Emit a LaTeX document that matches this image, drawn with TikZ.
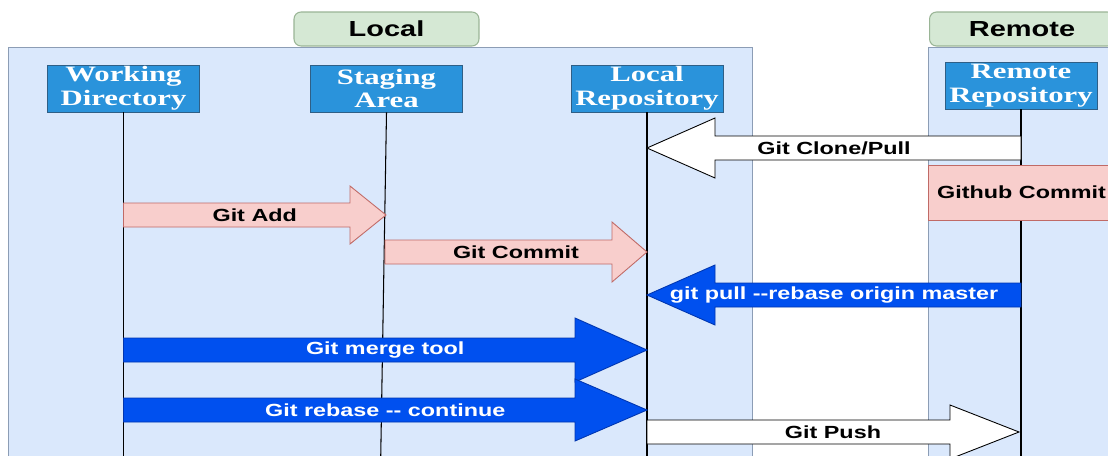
\documentclass[tikz,border=0pt]{standalone}
\usepackage{fontspec}
\usepackage{xcolor}

\newfontfamily\lanefont{Liberation Sans}[FakeStretch=1.33]
\newfontfamily\actorfont{Liberation Serif}[FakeStretch=1.4]

\definecolor{lanefill}{HTML}{DAE8FC}
\definecolor{laneline}{HTML}{8C9DB5}
\definecolor{headfill}{HTML}{D5E8D4}
\definecolor{headline}{HTML}{9AB596}
\definecolor{actorblue}{HTML}{2A93DB}
\definecolor{actorline}{HTML}{2F5F86}
\definecolor{pinkfill}{HTML}{F8CECC}
\definecolor{pinkline}{HTML}{C06A66}
\definecolor{gitblue}{HTML}{0050EF}
\definecolor{gitblueline}{HTML}{0036B0}

\tikzset{
  lane/.style={fill=lanefill, draw=laneline, line width=0.5pt},
  lanehead/.style={rounded corners=4pt, fill=headfill, draw=headline, line width=0.6pt,
    font=\lanefont\bfseries\fontsize{12.4}{14}\selectfont, minimum height=0.68cm},
  actor/.style={fill=actorblue, draw=actorline, line width=0.5pt, text=white,
    font=\actorfont\bfseries\fontsize{12.5}{13.6}\selectfont, align=center,
    inner sep=0pt, minimum width=3.04cm, minimum height=0.94cm},
  lifeline/.style={draw=black, line width=0.6pt},
  msg/.style={font=\lanefont\bfseries\fontsize{10}{12}\selectfont, inner sep=0pt},
  pinkarrow/.style={fill=pinkfill, draw=pinkline, line width=0.5pt},
  whitearrow/.style={fill=white, draw=black, line width=0.5pt},
  bluearrow/.style={fill=gitblue, draw=gitblueline, line width=0.5pt},
}

% block arrow: style, label name, tail x, tip x, y, head base x, head half height, label, text colour
\newcommand{\blockarrow}[9]{%
  \draw[#1] (#3,#5-12) -- (#6,#5-12) -- (#6,#5-#7) -- (#4,#5)
    -- (#6,#5+#7) -- (#6,#5+12) -- (#3,#5+12) -- cycle;
  \node[msg, text=#9] (#2) at ({(#3+#4)/2},#5) {#8};
}

\begin{document}
\begin{tikzpicture}[x=0.02cm, y=-0.02cm]

\useasboundingbox (0,0) rectangle (1108,456);
\fill[white] (0,0) rectangle (1108,456);

% swimlanes
\draw[lane] (8,47) rectangle (752,470);
\draw[lane] (928,47) rectangle (1140,470);
\node[lanehead, minimum width=3.7cm] (localhead) at (386.5,29) {Local};
\node[lanehead, minimum width=3.7cm] (remotehead) at (1022,29) {Remote};

% actors
\node[actor] (wd) at (123.5,88.5) {Working\\Directory};
\node[actor] (sa) at (386.5,88.5) {Staging\\Area};
\node[actor] (lr) at (647,88.5) {Local\\Repository};
\node[actor] (rr) at (1021,85.5) {Remote\\Repository};

% lifelines
\coordinate (wdend) at (123.5,470);
\coordinate (saend) at (380.5,470);
\coordinate (lrend) at (647,470);
\coordinate (rrend) at (1021,470);
\draw[lifeline] (wd.south) -- (wdend);
\draw[lifeline] (sa.south) -- (saend);
\draw[lifeline] (lr.south) -- (lrend);
\draw[lifeline] (rr.south) -- (rrend);

% commit on github
\node[fill=pinkfill, draw=pinkline, line width=0.5pt, msg, minimum width=3.74cm,
  minimum height=1.1cm] (ghcommit) at (1021.5,192.5) {Github Commit};

% messages
\blockarrow{whitearrow}{clone}{1021}{647}{148}{715}{30}{Git Clone/Pull}{black}
\blockarrow{pinkarrow}{add}{123.5}{386}{215}{350}{29}{Git Add}{black}
\blockarrow{pinkarrow}{commit}{385}{647}{252}{612}{30}{Git Commit}{black}
\blockarrow{bluearrow}{pullrebase}{1021}{647}{295}{715}{30}{git pull -{}-rebase origin master}{white}
\blockarrow{bluearrow}{merge}{123.5}{647}{350}{575}{32}{Git merge tool}{white}
\blockarrow{bluearrow}{rebase}{123.5}{647}{410}{575}{31}{Git rebase -{}- continue}{white}
\blockarrow{whitearrow}{push}{647}{1019}{432}{950}{27}{Git Push}{black}

\end{tikzpicture}
\end{document}
